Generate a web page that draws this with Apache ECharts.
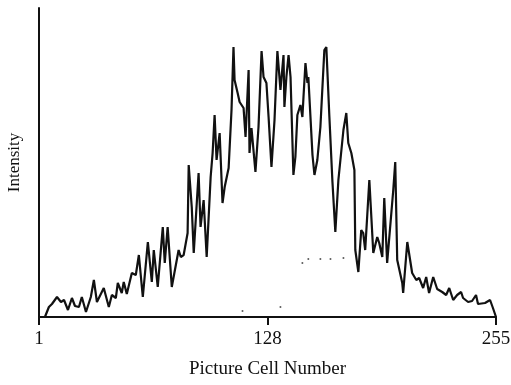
<!DOCTYPE html>
<html>
<head>
<meta charset="utf-8">
<script src="https://cdn.jsdelivr.net/npm/echarts@6/dist/echarts.min.js"></script>
<style>
  html, body { margin: 0; padding: 0; background: #fff; }
  #chart { width: 511px; height: 385px; }
</style>
</head>
<body>
<div id="chart"></div>
<script>
// picture cell positions of the traced profile vertices
const cellNumbers = [
  1, 4.3, 6.5, 8.2, 11.0, 13.2, 14.9, 17.1, 19.3, 21.0, 23.2, 24.8, 27.1, 29.8, 31.5, 33.2,
  37.0, 39.8, 41.5, 43.7, 44.8, 47.0, 48.1, 49.8, 52.6, 54.8, 56.5, 58.7, 61.5, 63.7, 64.8,
  67.0, 69.8, 70.9, 72.5, 74.8, 78.6, 79.8, 81.4, 83.6, 84.2, 85.9, 87.0, 89.7, 90.8, 92.5,
  94.2, 96.4, 97.5, 98.6, 99.7, 101.4, 103.0, 104.2, 106.4, 108.0, 109.1, 109.7, 111.4, 112.5,
  114.7, 115.8, 117.5, 118.0, 119.1, 121.3, 123.0, 124.7, 125.8, 127.4, 128.6, 130.2, 131.9,
  133.5, 135.2, 136.9, 137.4, 138.5, 139.7, 140.8, 142.4, 143.5, 144.6, 146.3, 147.4, 148.0,
  149.1, 150.2, 150.7, 153.0, 154.1, 155.7, 157.4, 159.6, 160.7, 162.4, 164.1, 165.7, 167.4,
  170.2, 171.8, 172.9, 174.6, 176.3, 176.8, 178.5, 180.1, 181.2, 182.3, 184.6, 186.8, 189.0,
  190.1, 191.8, 192.9, 194.5, 197.9, 199.0, 200.1, 202.9, 203.4, 205.7, 208.4, 210.7, 212.3,
  214.5, 216.2, 217.8, 220.1, 222.3, 225.1, 227.3, 229.0, 231.2, 233.4, 235.6, 236.7, 239.5,
  241.7, 243.9, 245.0, 248.9, 251.7, 253.3, 255
];
const intensity = [
  0, 0, 10, 13, 20, 15, 17, 7, 19, 11, 10, 20, 5, 20, 37, 15,
  29, 10, 22, 19, 34, 24, 35, 23, 44, 42, 62, 20, 75, 35, 67,
  30, 90, 54, 90, 30, 67, 60, 62, 84, 152, 110, 64, 144, 90, 117,
  60, 140, 164, 202, 157, 184, 114, 130, 149, 207, 270, 237, 224, 215,
  209, 180, 247, 164, 189, 145, 190, 266, 240, 234, 200, 150, 197,
  266, 227, 262, 210, 240, 262, 240, 142, 160, 202, 212, 200, 220,
  254, 234, 240, 162, 142, 157, 190, 267, 270, 200, 135, 85, 137,
  187, 204, 174, 164, 147, 67, 45, 87, 84, 67, 137, 64, 80,
  74, 60, 119, 54, 127, 155, 57, 34, 24, 75, 44, 37, 39,
  29, 40, 24, 40, 28, 25, 22, 29, 17, 22, 25, 19, 15,
  16, 22, 13, 14, 17, 9, 0
];
// stray specks in the scanned figure
const speckCells = [114.1, 135.2, 147.4, 150.7, 157.4, 163.0, 170.2];
const speckIntensity = [6, 10, 54, 58, 58, 58, 59];
const tickCells = [1, 128, 255];

const serif = "'Liberation Serif', 'DejaVu Serif', serif";

const chart = echarts.init(document.getElementById("chart"));
chart.setOption({
  animation: false,
  backgroundColor: "#fff",
  grid: { left: 39, right: 15, top: 8, bottom: 68, outerBoundsMode: "none" },
  xAxis: {
    type: "value",
    min: 1,
    max: 255,
    name: "Picture Cell Number",
    nameLocation: "middle",
    nameGap: 43,
    nameTextStyle: { fontFamily: serif, fontSize: 19, color: "#111" },
    axisLine: { lineStyle: { color: "#111", width: 2 } },
    axisTick: {
      show: true,
      customValues: tickCells,
      length: 8,
      lineStyle: { color: "#111", width: 2 }
    },
    axisLabel: {
      customValues: tickCells,
      margin: 13,
      fontFamily: serif,
      fontSize: 19,
      color: "#111"
    },
    splitLine: { show: false }
  },
  yAxis: {
    type: "value",
    min: 0,
    max: 309,
    name: "Intensity",
    nameLocation: "middle",
    nameGap: 16,
    nameTextStyle: { fontFamily: serif, fontSize: 17, color: "#111" },
    axisLine: { show: true, lineStyle: { color: "#111", width: 2 } },
    axisTick: { show: false },
    axisLabel: { show: false },
    splitLine: { show: false }
  },
  series: [
    {
      type: "line",
      data: cellNumbers.map((c, i) => [c, intensity[i]]),
      symbol: "none",
      lineStyle: { color: "#111", width: 2.2 }
    },
    {
      type: "scatter",
      data: speckCells.map((c, i) => [c, speckIntensity[i]]),
      symbolSize: 2,
      itemStyle: { color: "#333" }
    }
  ]
});
</script>
</body>
</html>
